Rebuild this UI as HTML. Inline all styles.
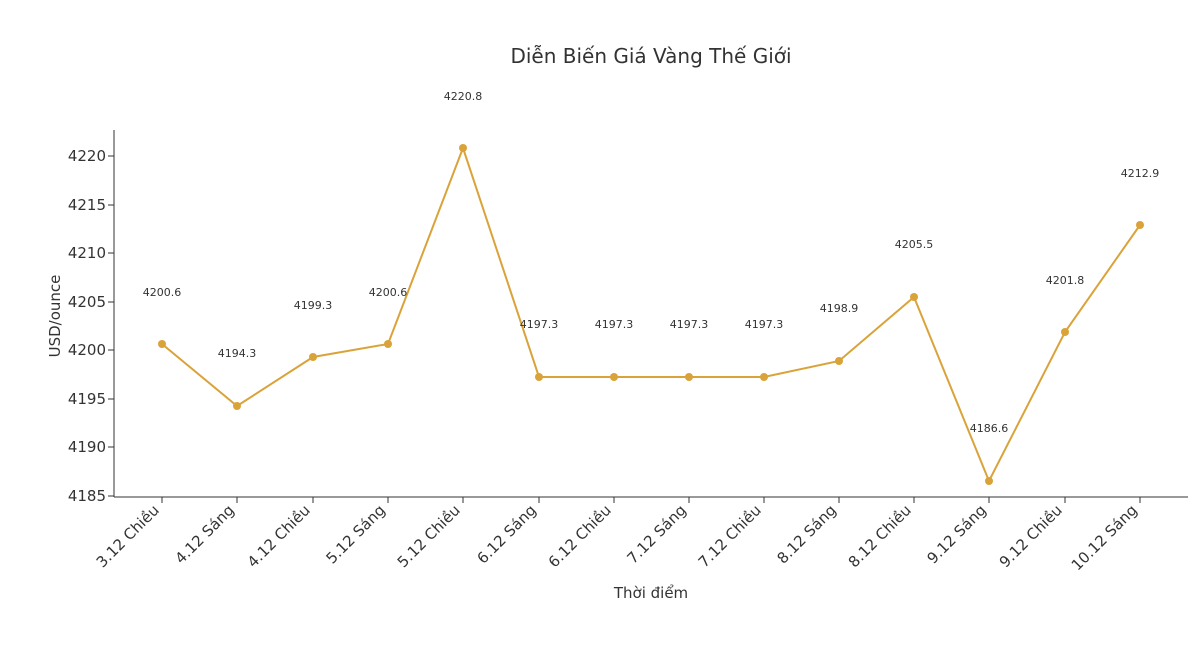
<!DOCTYPE html>
<html><head><meta charset="utf-8"><style>
body{margin:0;background:#fff;}
svg{display:block;font-family:"DejaVu Sans","Liberation Sans",sans-serif;}
</style></head><body>
<svg width="1194" height="652" xmlns="http://www.w3.org/2000/svg">
<rect width="1194" height="652" fill="#fff"/>
<text x="651" y="63" font-size="20" text-anchor="middle" fill="#333">Diễn Biến Giá Vàng Thế Giới</text>
<line x1="114" y1="130" x2="114" y2="497" stroke="#333" stroke-width="1"/>
<line x1="114" y1="497" x2="1188" y2="497" stroke="#333" stroke-width="1"/>
<g font-size="15" fill="#333" text-anchor="end">
<text x="106" y="161">4220</text><line x1="108" y1="156" x2="114" y2="156" stroke="#333"/>
<text x="106" y="210">4215</text><line x1="108" y1="205" x2="114" y2="205" stroke="#333"/>
<text x="106" y="258">4210</text><line x1="108" y1="253" x2="114" y2="253" stroke="#333"/>
<text x="106" y="307">4205</text><line x1="108" y1="302" x2="114" y2="302" stroke="#333"/>
<text x="106" y="355">4200</text><line x1="108" y1="350" x2="114" y2="350" stroke="#333"/>
<text x="106" y="404">4195</text><line x1="108" y1="399" x2="114" y2="399" stroke="#333"/>
<text x="106" y="452">4190</text><line x1="108" y1="447" x2="114" y2="447" stroke="#333"/>
<text x="106" y="501">4185</text><line x1="108" y1="496" x2="114" y2="496" stroke="#333"/>
</g>
<text transform="translate(60,316) rotate(-90)" font-size="15" text-anchor="middle" fill="#333">USD/ounce</text>
<text x="651" y="598" font-size="15" text-anchor="middle" fill="#333">Thời điểm</text>
<g font-size="15" fill="#333" text-anchor="end">
<g transform="translate(162,497)"><line y2="6" stroke="#333"/><text transform="translate(-2,14) rotate(-45)">3.12 Chiều</text></g>
<g transform="translate(237,497)"><line y2="6" stroke="#333"/><text transform="translate(-2,14) rotate(-45)">4.12 Sáng</text></g>
<g transform="translate(313,497)"><line y2="6" stroke="#333"/><text transform="translate(-2,14) rotate(-45)">4.12 Chiều</text></g>
<g transform="translate(388,497)"><line y2="6" stroke="#333"/><text transform="translate(-2,14) rotate(-45)">5.12 Sáng</text></g>
<g transform="translate(463,497)"><line y2="6" stroke="#333"/><text transform="translate(-2,14) rotate(-45)">5.12 Chiều</text></g>
<g transform="translate(539,497)"><line y2="6" stroke="#333"/><text transform="translate(-2,14) rotate(-45)">6.12 Sáng</text></g>
<g transform="translate(614,497)"><line y2="6" stroke="#333"/><text transform="translate(-2,14) rotate(-45)">6.12 Chiều</text></g>
<g transform="translate(689,497)"><line y2="6" stroke="#333"/><text transform="translate(-2,14) rotate(-45)">7.12 Sáng</text></g>
<g transform="translate(764,497)"><line y2="6" stroke="#333"/><text transform="translate(-2,14) rotate(-45)">7.12 Chiều</text></g>
<g transform="translate(839,497)"><line y2="6" stroke="#333"/><text transform="translate(-2,14) rotate(-45)">8.12 Sáng</text></g>
<g transform="translate(914,497)"><line y2="6" stroke="#333"/><text transform="translate(-2,14) rotate(-45)">8.12 Chiều</text></g>
<g transform="translate(989,497)"><line y2="6" stroke="#333"/><text transform="translate(-2,14) rotate(-45)">9.12 Sáng</text></g>
<g transform="translate(1065,497)"><line y2="6" stroke="#333"/><text transform="translate(-2,14) rotate(-45)">9.12 Chiều</text></g>
<g transform="translate(1140,497)"><line y2="6" stroke="#333"/><text transform="translate(-2,14) rotate(-45)">10.12 Sáng</text></g>
</g>
<polyline fill="none" stroke="#DAA33A" stroke-width="2" points="162,344 237,406 313,357 388,344 463,148 539,377 614,377 689,377 764,377 839,361 914,297 989,481 1065,332 1140,225"/>
<g fill="#DAA33A">
<circle cx="162" cy="344" r="4"/><circle cx="237" cy="406" r="4"/><circle cx="313" cy="357" r="4"/><circle cx="388" cy="344" r="4"/><circle cx="463" cy="148" r="4"/><circle cx="539" cy="377" r="4"/><circle cx="614" cy="377" r="4"/><circle cx="689" cy="377" r="4"/><circle cx="764" cy="377" r="4"/><circle cx="839" cy="361" r="4"/><circle cx="914" cy="297" r="4"/><circle cx="989" cy="481" r="4"/><circle cx="1065" cy="332" r="4"/><circle cx="1140" cy="225" r="4"/>
</g>
<g font-size="11" fill="#333" text-anchor="middle">
<text x="162" y="296">4200.6</text><text x="237" y="357">4194.3</text><text x="313" y="309">4199.3</text><text x="388" y="296">4200.6</text><text x="463" y="100">4220.8</text><text x="539" y="328">4197.3</text><text x="614" y="328">4197.3</text><text x="689" y="328">4197.3</text><text x="764" y="328">4197.3</text><text x="839" y="312">4198.9</text><text x="914" y="248">4205.5</text><text x="989" y="432">4186.6</text><text x="1065" y="284">4201.8</text><text x="1140" y="177">4212.9</text>
</g>
</svg>
</body></html>
